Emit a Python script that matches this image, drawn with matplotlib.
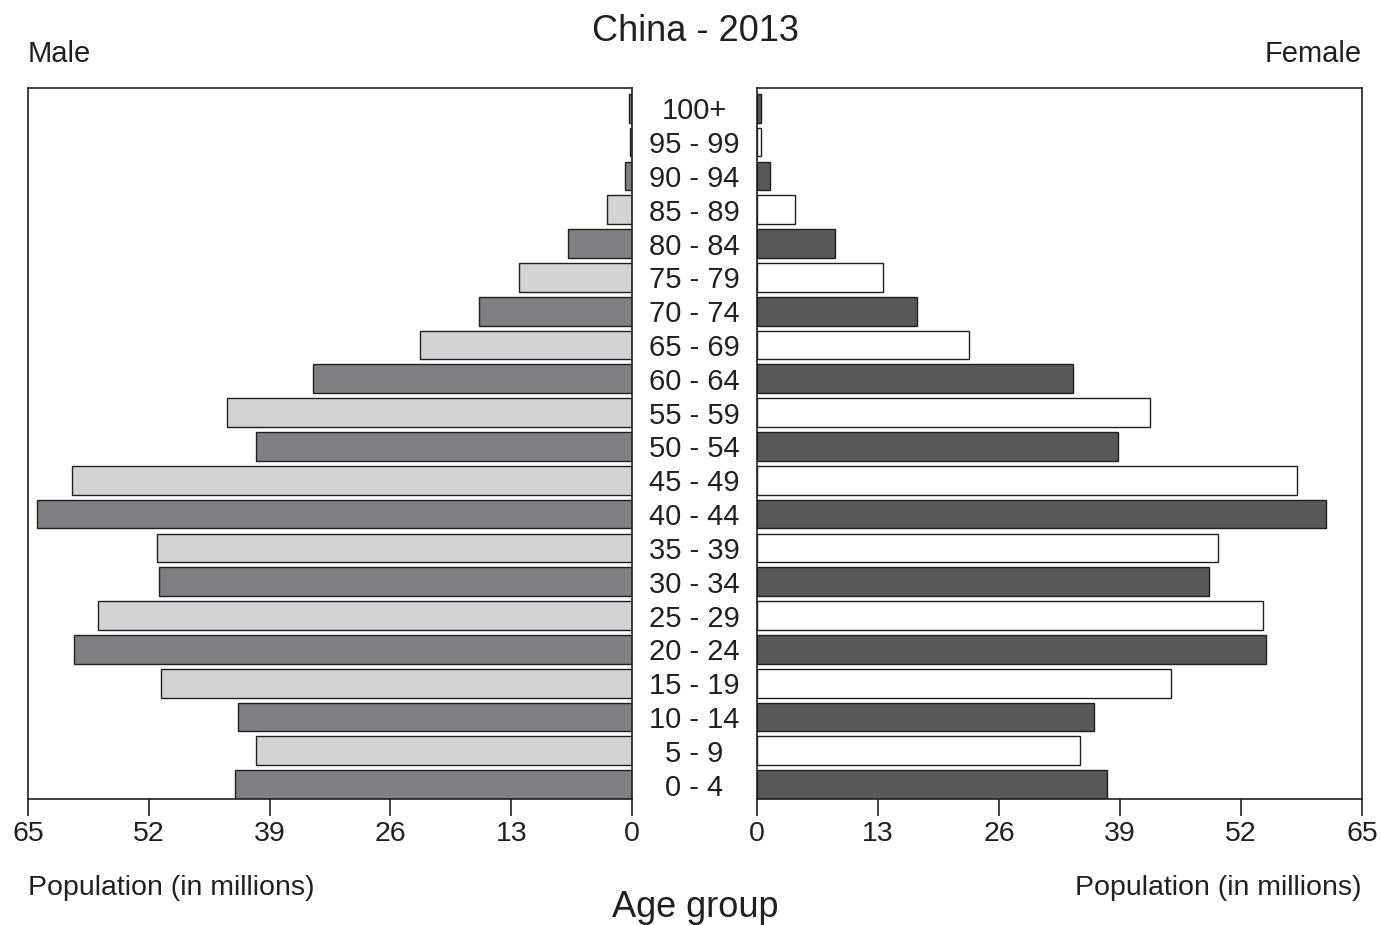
import matplotlib.pyplot as plt
import numpy as np

plt.rcParams['font.family'] = ['Liberation Sans', 'DejaVu Sans']

# age groups, youngest first
age_groups = ['0 - 4', '5 - 9', '10 - 14', '15 - 19', '20 - 24', '25 - 29', '30 - 34',
              '35 - 39', '40 - 44', '45 - 49', '50 - 54', '55 - 59', '60 - 64', '65 - 69',
              '70 - 74', '75 - 79', '80 - 84', '85 - 89', '90 - 94', '95 - 99', '100+']

# population in millions
male = [42.7, 40.5, 42.4, 50.7, 60.0, 57.5, 50.9, 51.1, 64.0, 60.3, 40.5,
        43.6, 34.3, 22.8, 16.5, 12.2, 6.9, 2.7, 0.75, 0.2, 0.3]
female = [37.6, 34.7, 36.2, 44.5, 54.7, 54.4, 48.6, 49.5, 61.1, 58.0, 38.8,
          42.2, 33.9, 22.8, 17.2, 13.5, 8.4, 4.1, 1.4, 0.4, 0.4]

ticks = [0, 13, 26, 39, 52, 65]

txt = '#231f20'
male_cols = ['#7f8084', '#d2d3d5']
female_cols = ['#58585a', '#ffffff']

fig = plt.figure(figsize=(13.81, 9.25), dpi=100)
ax_m = fig.add_axes([0.0203, 0.1362, 0.4374, 0.7687])
ax_f = fig.add_axes([0.5482, 0.1362, 0.4381, 0.7687])

y = np.arange(len(age_groups))
ax_m.barh(y, male, height=0.85, color=[male_cols[i % 2] for i in y],
          edgecolor=txt, linewidth=1.0)
ax_f.barh(y, female, height=0.85, color=[female_cols[i % 2] for i in y],
          edgecolor=txt, linewidth=1.0)

ax_m.set_xlim(65, 0)
ax_f.set_xlim(0, 65)
for ax in (ax_m, ax_f):
    ax.set_ylim(-0.425, 20.6)
    ax.set_yticks([])
    ax.set_xticks(ticks)
    ax.tick_params(axis='x', direction='out', length=12, width=1.2, color=txt,
                   labelsize=20.5, labelcolor=txt, pad=4)
    for s in ax.spines.values():
        s.set_color(txt)
        s.set_linewidth(1.2)

# age labels in the middle gap
for i, lab in enumerate(age_groups):
    fig.text(0.5029, ax_m.transData.transform((0, i))[1] / fig.bbox.height,
             lab, ha='center', va='center_baseline', fontsize=21, color=txt)

fig.text(0.5033, 0.966, 'China - 2013', ha='center', va='center', fontsize=26, color=txt)
fig.text(0.0203, 0.942, 'Male', ha='left', va='center', fontsize=21, color=txt)
fig.text(0.9862, 0.942, 'Female', ha='right', va='center', fontsize=21, color=txt)
fig.text(0.0203, 0.040, 'Population (in millions)', ha='left', va='center', fontsize=20.5, color=txt)
fig.text(0.9862, 0.040, 'Population (in millions)', ha='right', va='center', fontsize=20.5, color=txt)
fig.text(0.5033, 0.019, 'Age group', ha='center', va='center', fontsize=26, color=txt)

plt.savefig('out.png', dpi=100)
